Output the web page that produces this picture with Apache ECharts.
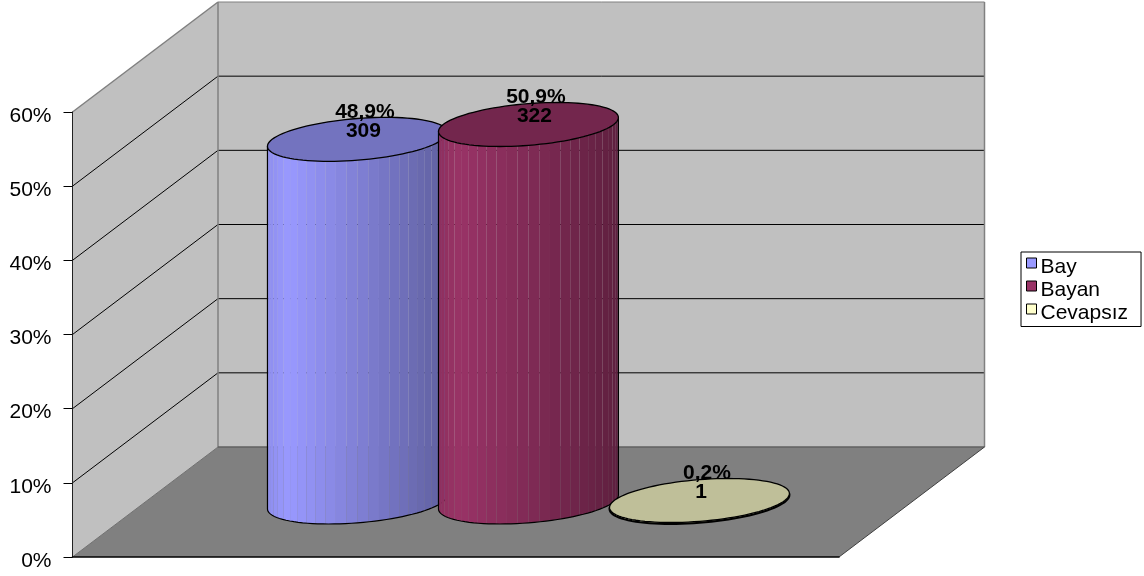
<!DOCTYPE html>
<html>
<head>
<meta charset="utf-8">
<style>html,body{margin:0;padding:0;background:#fff}#c{width:1144px;height:576px}</style>
<script src="https://cdn.jsdelivr.net/npm/echarts@6/dist/echarts.min.js"></script>
</head>
<body>
<div id="c"></div>
<script>
var categories = ['Bay', 'Bayan', 'Cevapsız'];
var percents = [48.9, 50.9, 0.2];
var counts = [309, 322, 1];
var yTicks = [0, 10, 20, 30, 40, 50, 60];
var colors = ['#9999FF', '#993366', '#FFFFCC'];

// projection of the chart's box
var FONT = '"Liberation Sans", Arial, sans-serif';
var DX = 145.5, DY = 110;
var BASE_DX = 72.7, BASE_DY = 55;
var RX = 85.3, VX = 28.6, VY = 22;
var STRIPS = 26;
var COUNT_SHIFT = [6, 6, 1.5];

function mix(hex, f) {
  var n = parseInt(hex.slice(1), 16);
  return 'rgb(' + Math.round((n >> 16 & 255) * f) + ',' + Math.round((n >> 8 & 255) * f) + ',' + Math.round((n & 255) * f) + ')';
}
function shade(frac) {
  if (frac < 0.12) return 0.93 + 0.07 * frac / 0.12;
  return 1 - 0.38 * (frac - 0.12) / 0.88;
}
function rim(c, t) {
  return [c[0] + RX * Math.cos(t) + VX * Math.sin(t), c[1] - VY * Math.sin(t)];
}

function renderWalls(params, api) {
  var cs = params.coordSys;
  var x0 = cs.x, x1 = cs.x + cs.width;
  var y0 = api.coord([0, 0])[1], yTop = api.coord([0, yTicks[yTicks.length - 1]])[1];
  var kids = [];
  function poly(pts, fill) {
    kids.push({ type: 'polygon', shape: { points: pts }, style: { fill: fill } });
  }
  function line(a, b, stroke, lw) {
    kids.push({ type: 'line', shape: { x1: a[0], y1: a[1], x2: b[0], y2: b[1] }, style: { stroke: stroke, lineWidth: lw } });
  }
  poly([[x0, y0], [x0, yTop], [x0 + DX, yTop - DY], [x0 + DX, y0 - DY]], '#C0C0C0');
  poly([[x0 + DX, y0 - DY], [x0 + DX, yTop - DY], [x1 + DX, yTop - DY], [x1 + DX, y0 - DY]], '#C0C0C0');
  poly([[x0, y0], [x0 + DX, y0 - DY], [x1 + DX, y0 - DY], [x1, y0]], '#808080');
  yTicks.forEach(function (v) {
    if (v === 0 || v === yTicks[yTicks.length - 1]) return;
    var y = api.coord([0, v])[1];
    line([x0, y], [x0 + DX, y - DY], '#000', 1);
    line([x0 + DX, y - DY], [x1 + DX, y - DY], '#000', 1);
  });
  line([x0, yTop], [x0 + DX, yTop - DY], '#808080', 1.5);
  line([x0 + DX, yTop - DY], [x1 + DX, yTop - DY], '#808080', 1);
  line([x1 + DX, yTop - DY], [x1 + DX, y0 - DY], '#808080', 1.5);
  line([x0 + DX, yTop - DY], [x0 + DX, y0 - DY], '#808080', 1.5);
  line([x0 + DX, y0 - DY], [x1 + DX, y0 - DY], '#606060', 1.5);
  line([x0, y0], [x0 + DX, y0 - DY], '#707070', 1);
  line([x1, y0], [x1 + DX, y0 - DY], '#404040', 1);
  return { type: 'group', children: kids };
}

function renderCylinder(idx) {
  return function (params, api) {
    var foot = api.coord([idx, 0]);
    var head = api.coord([idx, percents[idx]]);
    var b = [foot[0] + BASE_DX, foot[1] - BASE_DY];
    var t = [head[0] + BASE_DX, head[1] - BASE_DY];
    var phi = Math.atan2(VX, RX);
    var color = colors[idx];
    var kids = [];
    var i;
    for (i = 0; i < STRIPS; i++) {
      var a0 = Math.PI + phi + Math.PI * i / STRIPS;
      var a1 = Math.PI + phi + Math.PI * (i + 1) / STRIPS;
      var pts = [rim(t, a0), rim(t, a1), rim(b, a1), rim(b, a0)];
      var frac = (rim(b, (a0 + a1) / 2)[0] - (b[0] - Math.hypot(RX, VX))) / (2 * Math.hypot(RX, VX));
      kids.push({ type: 'polygon', shape: { points: pts }, style: { fill: mix(color, shade(frac)) } });
    }
    var outline = [];
    for (i = 0; i <= 48; i++) outline.push(rim(b, Math.PI + phi + Math.PI * i / 48));
    outline.unshift(rim(t, Math.PI + phi));
    outline.push(rim(t, phi));
    kids.push({ type: 'polyline', shape: { points: outline }, style: { fill: null, stroke: '#000', lineWidth: idx === 2 ? 2 : 1.2 } });
    var top = [];
    for (i = 0; i < 96; i++) top.push(rim(t, 2 * Math.PI * i / 96));
    kids.push({ type: 'polygon', shape: { points: top }, style: { fill: mix(color, 0.75), stroke: '#000', lineWidth: 1.3 } });
    kids.push({ type: 'text', style: { text: String(percents[idx]).replace('.', ',') + '%', x: t[0] + 7.5, y: t[1] - 27, align: 'center', verticalAlign: 'middle', font: 'bold 21px ' + FONT, fill: '#000' } });
    kids.push({ type: 'text', style: { text: String(counts[idx]), x: t[0] + COUNT_SHIFT[idx], y: t[1] - 8, align: 'center', verticalAlign: 'middle', font: 'bold 21px ' + FONT, fill: '#000' } });
    return { type: 'group', children: kids };
  };
}

var series = [{
  type: 'custom', z: 1, silent: true, data: [[0, 0]],
  renderItem: renderWalls, encode: { x: 0, y: 1 }
}];
categories.forEach(function (name, i) {
  series.push({
    type: 'custom', name: name, z: 3 + i, silent: true,
    itemStyle: { color: colors[i] },
    data: [[i, percents[i]]],
    encode: { x: 0, y: 1 },
    renderItem: renderCylinder(i)
  });
});

var chart = echarts.init(document.getElementById('c'), null, { renderer: 'canvas' });
chart.setOption({
  animation: false,
  backgroundColor: '#fff',
  grid: { left: 72.5, right: 305, top: 112, bottom: 19, containLabel: false },
  xAxis: {
    type: 'value', min: -1.241, max: 3.241, z: 2,
    axisLine: { show: true, onZero: false, lineStyle: { color: '#000', width: 1.5 } },
    axisTick: { show: false }, axisLabel: { show: false }, splitLine: { show: false }
  },
  yAxis: {
    type: 'value', min: 0, max: 60, interval: 10, z: 2,
    axisLine: { show: true, onZero: false, lineStyle: { color: '#222', width: 1 } },
    axisTick: { show: true, length: 9, lineStyle: { color: '#000' } },
    axisLabel: { formatter: '{value}%', margin: 21, color: '#000', fontSize: 21, fontFamily: FONT, verticalAlign: 'top', padding: [-6.5, 0, 0, 0] },
    splitLine: { show: false }
  },
  legend: {
    show: true, orient: 'vertical', left: 1021, top: 252,
    data: categories, icon: 'path://M0,0H10V10H0Z M0,18L0,18',
    itemWidth: 10, itemHeight: 18, itemGap: 2,
    padding: [4.5, 13, 3, 5],
    backgroundColor: '#fff', borderColor: '#000', borderWidth: 1, borderRadius: 0,
    itemStyle: { borderColor: '#000', borderWidth: 1 },
    textStyle: { color: '#000', fontSize: 21, fontFamily: FONT, padding: [0, 0, 0, -1] },
    selectedMode: false
  },
  series: series
});
</script>
</body>
</html>
